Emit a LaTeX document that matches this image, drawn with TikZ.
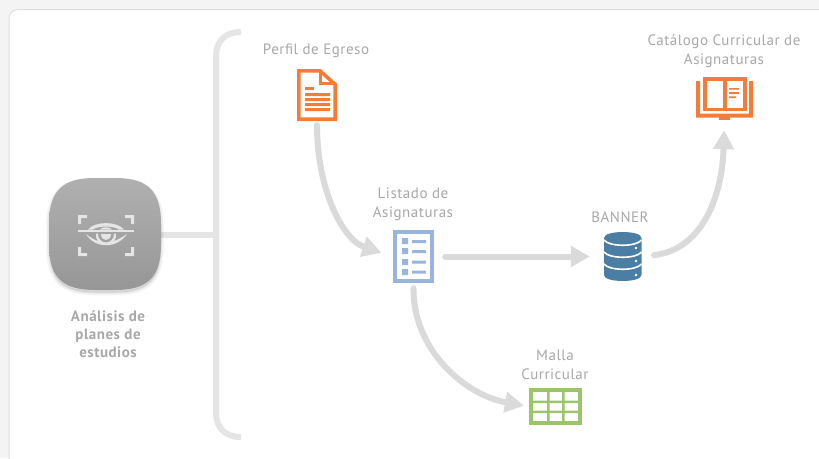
\documentclass[tikz,border=0pt]{standalone}
\usepackage{fontspec}
\setmainfont[LetterSpace=3.5]{PT Sans}
\usetikzlibrary{arrows.meta}
\definecolor{panelline}{HTML}{DEDEDE}
\definecolor{outerbg}{HTML}{F4F4F4}
\definecolor{barcol}{HTML}{E5E5E5}
\definecolor{conncol}{HTML}{DADADA}
\definecolor{labelcol}{HTML}{A8A8A8}
\definecolor{orangecol}{HTML}{F37C38}
\definecolor{bluecol}{HTML}{9AB4E0}
\definecolor{dbcol}{HTML}{4A7EA4}
\definecolor{greencol}{HTML}{9CC46C}
\newcommand{\hubshape}{(95,178) -- (115,178) .. controls (148,178) and (161,191) .. (161,224) -- (161,244) .. controls (161,277) and (148,290) .. (115,290) -- (95,290) .. controls (62,290) and (49,277) .. (49,244) -- (49,224) .. controls (49,191) and (62,178) .. (95,178) -- cycle}
\tikzset{
  x=1pt,y=-1pt,
  conn/.style={draw=conncol,line width=6pt,line cap=round,-{Triangle[length=19pt,width=20pt]}},
  bar/.style={draw=barcol,line width=6pt},
  hubglow/.style={draw=black,fill=black,draw opacity=0.03,fill opacity=0.03,line join=round,line width=#1},
  lbl/.style={text=labelcol,align=center,font=\fontsize{15}{19}\selectfont,inner sep=0pt},
  lblb/.style={text=labelcol,align=center,font=\fontsize{15}{18}\selectfont\bfseries,inner sep=0pt},
}
\begin{document}
\begin{tikzpicture}
\useasboundingbox (0,0) rectangle (819,458);
\fill[outerbg] (0,0) rectangle (819,458);
\fill[white,draw=panelline,line width=1pt,rounded corners=9pt] (9,9.5) rectangle (840,480);

% hub
\node[minimum width=112pt,minimum height=110pt,inner sep=0pt] (hub) at (105,235) {};
\coordinate (brk) at (216,235);
\draw[bar] (hub.east) -- (brk);
\begin{scope}[yshift=-2.5pt]
\path[hubglow=6pt] \hubshape;
\path[hubglow=4pt] \hubshape;
\path[hubglow=2pt] \hubshape;
\end{scope}
\shade[top color=black!31,bottom color=black!41] \hubshape;
\draw[bar] (241,32) .. controls (225,32) and (216,41) .. (216,57) -- (216,412) .. controls (216,428) and (225,437) .. (241,437);

% eye icon
\begin{scope}[fill=black!10]
\fill (78,215) rectangle (87,218) (78,215) rectangle (81,224);
\fill (125,215) rectangle (134,218) (131,215) rectangle (134,224);
\fill (78,253) rectangle (87,256) (78,247) rectangle (81,256);
\fill (125,253) rectangle (134,256) (131,247) rectangle (134,256);
\fill (78,230.3) rectangle (134,232.3);
\fill (88,229.5) .. controls (95,221) and (117,221) .. (124,229.5) -- (119,229.5) .. controls (113,225.5) and (99,225.5) .. (93,229.5) -- cycle;
\fill (100,229.5) .. controls (102,226.5) and (110,226.5) .. (112,229.5) -- cycle;
\fill (86,234) .. controls (95,249) and (117,249) .. (127,234) .. controls (121,238) and (117,240) .. (114,241) .. controls (116,238) and (116.5,236) .. (116,233.5) -- (114,233.5) .. controls (114.5,239) and (110,242.5) .. (106,242.5) .. controls (102,242.5) and (97.5,239) .. (98,233.5) -- (96,233.5) .. controls (95.5,236) and (96,238) .. (98,241) .. controls (95,240) and (91,238) .. (86,234) -- cycle;
\fill (101,233.5) .. controls (101,241.5) and (111,241.5) .. (111,233.5) -- cycle;
\end{scope}
\node[lblb] (hublbl) at (108,334) {Análisis de\\planes de\\estudios};

% icon anchors
\node[minimum width=40pt,minimum height=52pt,inner sep=0pt] (perfil) at (317,95) {};
\node[minimum width=41pt,minimum height=53pt,inner sep=0pt] (listado) at (413.5,256.5) {};
\node[minimum width=37pt,minimum height=49pt,inner sep=0pt] (banner) at (622.5,256.5) {};
\node[minimum width=57pt,minimum height=42pt,inner sep=0pt] (catalogo) at (724.5,98) {};
\node[minimum width=53pt,minimum height=37pt,inner sep=0pt] (malla) at (555.5,406.5) {};

% connectors
\draw[conn,shorten <=4pt,shorten >=12pt] (perfil.south) .. controls (317,190) and (343,240) .. (listado.west);
\draw[conn,shorten <=11pt,shorten >=14pt] (listado.east) -- (banner.west);
\draw[conn,shorten <=5pt,shorten >=5pt] (listado.south) .. controls (413,350) and (465,395) .. (malla.west);
\draw[conn,shorten <=13pt,shorten >=11pt] (banner.east) .. controls (700,250) and (722,200) .. (catalogo.south);

% document icon
\draw[orangecol,line width=3.6pt,line join=miter,fill=white] (298.8,70.8) -- (320,70.8) -- (335.2,84.5) -- (335.2,119.2) -- (298.8,119.2) -- cycle;
\draw[orangecol,line width=3pt] (320,70.8) -- (320,83.5) -- (335.2,83.5);
\fill[orangecol] (305,87) rectangle (314,90);
\fill[orangecol] (305,93) rectangle (330,96) (305,98) rectangle (330,101) (305,103) rectangle (330,106) (305,108) rectangle (330,111);

% list icon
\draw[bluecol,line width=3.6pt,fill=white] (394.8,231.8) rectangle (432.2,281.2);
\fill[bluecol] (402,238) rectangle (408,244) (402,248) rectangle (408,254) (402,259) rectangle (408,265) (402,269) rectangle (408,275);
\fill[bluecol] (412,240) rectangle (426,243) (412,250) rectangle (426,253) (412,260.5) rectangle (426,263.5) (412,270.5) rectangle (426,273.5);

% database icon
\fill[dbcol] (604,238) .. controls (604,230) and (641.5,230) .. (641.5,238) -- (641.5,275) .. controls (641.5,283) and (604,283) .. (604,275) -- cycle;
\draw[white,line width=1.6pt] (604,240) .. controls (609,247) and (636.5,247) .. (641.5,240);
\draw[white,line width=1.6pt] (604,252) .. controls (609,259) and (636.5,259) .. (641.5,252);
\draw[white,line width=1.6pt] (604,264) .. controls (609,271) and (636.5,271) .. (641.5,264);
\fill[white] (636,248) circle[radius=1.4] (636,261) circle[radius=1.4] (636,275) circle[radius=1.4];

% book icon
\fill[orangecol] (696,81) -- (700,81) -- (700,113.5) -- (749,113.5) -- (749,81) -- (753,81) -- (753,117.5) -- (696,117.5) -- cycle;
\fill[orangecol] (719,117) rectangle (730,120);
\draw[orangecol,line width=3.5pt,fill=white] (704.8,78.8) rectangle (745.2,109.5);
\draw[orangecol,line width=3.5pt] (725,78.8) -- (725,109.5);
\fill[orangecol] (729,88) rectangle (739,89.6) (729,92.2) rectangle (739,93.8) (729,96.4) rectangle (736,98);

% table icon
\draw[greencol,line width=4.5pt,fill=white] (531.2,390.2) rectangle (579.8,422.8);
\fill[greencol] (547,390) rectangle (549.5,423) (562,390) rectangle (564.5,423);
\fill[greencol] (531,400.5) rectangle (580,403) (531,410.5) rectangle (580,413);

% labels
\node[lbl] (perfillbl) at (316,51) {Perfil de Egreso};
\node[lbl] (listadolbl) at (413,204.5) {Listado de\\Asignaturas};
\node[lbl] (bannerlbl) at (620,217) {BANNER};
\node[lbl] (catlbl) at (724,51.5) {Catálogo Curricular de\\Asignaturas};
\node[lbl] (mallalbl) at (555,364.5) {Malla\\Curricular};
\end{tikzpicture}
\end{document}
